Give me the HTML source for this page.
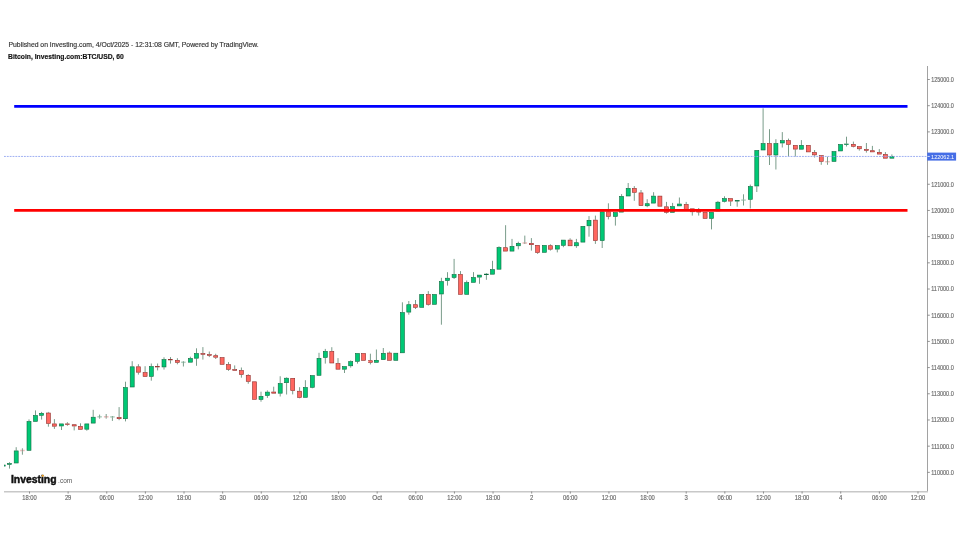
<!DOCTYPE html>
<html><head><meta charset="utf-8"><style>
html,body{margin:0;padding:0;background:#fff;width:960px;height:540px;overflow:hidden}
body>svg{position:absolute;left:0;top:0;will-change:transform}
text{font-family:"Liberation Sans",sans-serif}
.ax{font-size:6.6px;fill:#686868;stroke:#686868;stroke-width:0.15px}
</style></head><body>
<svg width="960" height="540" viewBox="0 0 960 540">
<text x="8.5" y="47" font-size="6.5" fill="#333" stroke="#333" stroke-width="0.15" textLength="250.2" lengthAdjust="spacingAndGlyphs">Published on Investing.com, 4/Oct/2025 - 12:31:08 GMT, Powered by TradingView.</text>
<text x="8" y="58.8" font-size="6.5" font-weight="bold" fill="#111" stroke="#111" stroke-width="0.15" textLength="115.9" lengthAdjust="spacingAndGlyphs">Bitcoin, Investing.com:BTC/USD, 60</text>
<svg x="4" y="60" width="923" height="431" viewBox="4 60 923 431" overflow="hidden">
<rect x="1.20" y="465.00" width="4.00" height="1.10" fill="#00c875" stroke="#0b6a3e" stroke-width="0.6"/>
<line x1="9.50" y1="462.20" x2="9.50" y2="463.20" stroke="#7a9c8a" stroke-width="1"/>
<line x1="9.50" y1="464.70" x2="9.50" y2="468.60" stroke="#7a9c8a" stroke-width="1"/>
<rect x="7.50" y="463.50" width="4.00" height="0.90" fill="#00c875" stroke="#0b6a3e" stroke-width="0.6"/>
<line x1="16.20" y1="447.20" x2="16.20" y2="450.60" stroke="#7a9c8a" stroke-width="1"/>
<rect x="14.20" y="450.90" width="4.00" height="12.10" fill="#00c875" stroke="#0b6a3e" stroke-width="0.6"/>
<line x1="22.40" y1="448.30" x2="22.40" y2="450.20" stroke="#7a9c8a" stroke-width="1"/>
<line x1="22.40" y1="450.80" x2="22.40" y2="454.70" stroke="#7a9c8a" stroke-width="1"/>
<rect x="20.10" y="449.75" width="4.60" height="1.5" fill="#eebcbc"/>
<line x1="22.40" y1="449.75" x2="22.40" y2="451.25" stroke="#7a9c8a" stroke-width="1"/>
<line x1="29.00" y1="419.40" x2="29.00" y2="421.20" stroke="#7a9c8a" stroke-width="1"/>
<rect x="27.00" y="421.50" width="4.00" height="28.80" fill="#00c875" stroke="#0b6a3e" stroke-width="0.6"/>
<line x1="35.50" y1="410.40" x2="35.50" y2="415.20" stroke="#7a9c8a" stroke-width="1"/>
<rect x="33.50" y="415.50" width="4.00" height="5.90" fill="#00c875" stroke="#0b6a3e" stroke-width="0.6"/>
<line x1="41.60" y1="411.90" x2="41.60" y2="413.00" stroke="#7a9c8a" stroke-width="1"/>
<line x1="41.60" y1="415.60" x2="41.60" y2="419.60" stroke="#7a9c8a" stroke-width="1"/>
<rect x="39.60" y="413.30" width="4.00" height="2.00" fill="#00c875" stroke="#0b6a3e" stroke-width="0.6"/>
<line x1="48.40" y1="411.90" x2="48.40" y2="412.70" stroke="#7a9c8a" stroke-width="1"/>
<line x1="48.40" y1="423.70" x2="48.40" y2="426.70" stroke="#7a9c8a" stroke-width="1"/>
<rect x="46.40" y="413.00" width="4.00" height="10.40" fill="#ff6760" stroke="#8f2f2c" stroke-width="0.6"/>
<line x1="54.40" y1="419.10" x2="54.40" y2="423.60" stroke="#7a9c8a" stroke-width="1"/>
<line x1="54.40" y1="426.50" x2="54.40" y2="428.90" stroke="#7a9c8a" stroke-width="1"/>
<rect x="52.40" y="423.90" width="4.00" height="2.30" fill="#ff6760" stroke="#8f2f2c" stroke-width="0.6"/>
<line x1="61.50" y1="426.30" x2="61.50" y2="430.00" stroke="#7a9c8a" stroke-width="1"/>
<rect x="59.50" y="423.90" width="4.00" height="2.10" fill="#00c875" stroke="#0b6a3e" stroke-width="0.6"/>
<line x1="67.40" y1="422.20" x2="67.40" y2="423.60" stroke="#7a9c8a" stroke-width="1"/>
<line x1="67.40" y1="424.80" x2="67.40" y2="425.80" stroke="#7a9c8a" stroke-width="1"/>
<rect x="65.40" y="423.90" width="4.00" height="0.60" fill="#ff6760" stroke="#8f2f2c" stroke-width="0.6"/>
<line x1="74.20" y1="426.30" x2="74.20" y2="430.40" stroke="#7a9c8a" stroke-width="1"/>
<rect x="72.20" y="424.70" width="4.00" height="1.30" fill="#ff6760" stroke="#8f2f2c" stroke-width="0.6"/>
<line x1="80.50" y1="423.30" x2="80.50" y2="426.10" stroke="#7a9c8a" stroke-width="1"/>
<rect x="78.50" y="426.40" width="4.00" height="2.90" fill="#ff6760" stroke="#8f2f2c" stroke-width="0.6"/>
<line x1="86.80" y1="429.50" x2="86.80" y2="430.70" stroke="#7a9c8a" stroke-width="1"/>
<rect x="84.80" y="423.90" width="4.00" height="5.30" fill="#00c875" stroke="#0b6a3e" stroke-width="0.6"/>
<line x1="93.20" y1="409.80" x2="93.20" y2="416.90" stroke="#7a9c8a" stroke-width="1"/>
<rect x="91.20" y="417.20" width="4.00" height="5.90" fill="#00c875" stroke="#0b6a3e" stroke-width="0.6"/>
<line x1="99.60" y1="414.60" x2="99.60" y2="416.50" stroke="#7a9c8a" stroke-width="1"/>
<line x1="99.60" y1="417.10" x2="99.60" y2="418.70" stroke="#7a9c8a" stroke-width="1"/>
<rect x="97.30" y="416.05" width="4.60" height="1.5" fill="#b4d2c2"/>
<line x1="99.60" y1="416.05" x2="99.60" y2="417.55" stroke="#7a9c8a" stroke-width="1"/>
<line x1="106.20" y1="414.00" x2="106.20" y2="416.50" stroke="#7a9c8a" stroke-width="1"/>
<line x1="106.20" y1="417.10" x2="106.20" y2="418.70" stroke="#7a9c8a" stroke-width="1"/>
<rect x="103.90" y="416.05" width="4.60" height="1.5" fill="#eebcbc"/>
<line x1="106.20" y1="416.05" x2="106.20" y2="417.55" stroke="#7a9c8a" stroke-width="1"/>
<line x1="112.40" y1="417.20" x2="112.40" y2="420.90" stroke="#7a9c8a" stroke-width="1"/>
<rect x="110.10" y="416.15" width="4.60" height="1.5" fill="#b4d2c2"/>
<line x1="112.40" y1="416.15" x2="112.40" y2="417.65" stroke="#7a9c8a" stroke-width="1"/>
<line x1="119.10" y1="407.10" x2="119.10" y2="417.20" stroke="#7a9c8a" stroke-width="1"/>
<line x1="119.10" y1="419.00" x2="119.10" y2="420.20" stroke="#7a9c8a" stroke-width="1"/>
<rect x="117.10" y="417.50" width="4.00" height="1.20" fill="#ff6760" stroke="#8f2f2c" stroke-width="0.6"/>
<line x1="125.50" y1="381.70" x2="125.50" y2="387.30" stroke="#7a9c8a" stroke-width="1"/>
<line x1="125.50" y1="419.00" x2="125.50" y2="421.40" stroke="#7a9c8a" stroke-width="1"/>
<rect x="123.50" y="387.60" width="4.00" height="31.10" fill="#00c875" stroke="#0b6a3e" stroke-width="0.6"/>
<line x1="132.20" y1="361.20" x2="132.20" y2="366.50" stroke="#7a9c8a" stroke-width="1"/>
<rect x="130.20" y="366.80" width="4.00" height="20.20" fill="#00c875" stroke="#0b6a3e" stroke-width="0.6"/>
<line x1="138.40" y1="364.20" x2="138.40" y2="366.50" stroke="#7a9c8a" stroke-width="1"/>
<line x1="138.40" y1="372.50" x2="138.40" y2="374.60" stroke="#7a9c8a" stroke-width="1"/>
<rect x="136.40" y="366.80" width="4.00" height="5.40" fill="#ff6760" stroke="#8f2f2c" stroke-width="0.6"/>
<line x1="145.10" y1="366.20" x2="145.10" y2="372.30" stroke="#7a9c8a" stroke-width="1"/>
<rect x="143.10" y="372.60" width="4.00" height="3.90" fill="#ff6760" stroke="#8f2f2c" stroke-width="0.6"/>
<line x1="151.30" y1="363.50" x2="151.30" y2="366.25" stroke="#7a9c8a" stroke-width="1"/>
<line x1="151.30" y1="376.70" x2="151.30" y2="380.70" stroke="#7a9c8a" stroke-width="1"/>
<rect x="149.30" y="366.55" width="4.00" height="9.85" fill="#00c875" stroke="#0b6a3e" stroke-width="0.6"/>
<line x1="157.60" y1="363.50" x2="157.60" y2="366.20" stroke="#7a9c8a" stroke-width="1"/>
<line x1="157.60" y1="367.30" x2="157.60" y2="370.40" stroke="#7a9c8a" stroke-width="1"/>
<rect x="155.60" y="366.50" width="4.00" height="0.50" fill="#ff6760" stroke="#8f2f2c" stroke-width="0.6"/>
<line x1="164.00" y1="357.30" x2="164.00" y2="359.30" stroke="#7a9c8a" stroke-width="1"/>
<line x1="164.00" y1="367.25" x2="164.00" y2="369.60" stroke="#7a9c8a" stroke-width="1"/>
<rect x="162.00" y="359.60" width="4.00" height="7.35" fill="#00c875" stroke="#0b6a3e" stroke-width="0.6"/>
<line x1="170.50" y1="357.10" x2="170.50" y2="359.20" stroke="#7a9c8a" stroke-width="1"/>
<line x1="170.50" y1="360.25" x2="170.50" y2="363.60" stroke="#7a9c8a" stroke-width="1"/>
<rect x="168.50" y="359.50" width="4.00" height="0.45" fill="#ff6760" stroke="#8f2f2c" stroke-width="0.6"/>
<line x1="177.40" y1="358.20" x2="177.40" y2="360.00" stroke="#7a9c8a" stroke-width="1"/>
<line x1="177.40" y1="362.70" x2="177.40" y2="364.30" stroke="#7a9c8a" stroke-width="1"/>
<rect x="175.40" y="360.30" width="4.00" height="2.10" fill="#ff6760" stroke="#8f2f2c" stroke-width="0.6"/>
<line x1="183.40" y1="361.25" x2="183.40" y2="362.00" stroke="#7a9c8a" stroke-width="1"/>
<line x1="183.40" y1="362.60" x2="183.40" y2="366.50" stroke="#7a9c8a" stroke-width="1"/>
<rect x="181.10" y="361.55" width="4.60" height="1.5" fill="#b4d2c2"/>
<line x1="183.40" y1="361.55" x2="183.40" y2="363.05" stroke="#7a9c8a" stroke-width="1"/>
<line x1="190.40" y1="356.70" x2="190.40" y2="358.20" stroke="#7a9c8a" stroke-width="1"/>
<rect x="188.40" y="358.50" width="4.00" height="3.70" fill="#00c875" stroke="#0b6a3e" stroke-width="0.6"/>
<line x1="196.50" y1="348.30" x2="196.50" y2="353.20" stroke="#7a9c8a" stroke-width="1"/>
<line x1="196.50" y1="358.50" x2="196.50" y2="365.80" stroke="#7a9c8a" stroke-width="1"/>
<rect x="194.50" y="353.50" width="4.00" height="4.70" fill="#00c875" stroke="#0b6a3e" stroke-width="0.6"/>
<line x1="202.90" y1="347.10" x2="202.90" y2="353.20" stroke="#7a9c8a" stroke-width="1"/>
<line x1="202.90" y1="354.60" x2="202.90" y2="359.60" stroke="#7a9c8a" stroke-width="1"/>
<rect x="200.90" y="353.50" width="4.00" height="0.80" fill="#ff6760" stroke="#8f2f2c" stroke-width="0.6"/>
<line x1="209.30" y1="351.50" x2="209.30" y2="354.30" stroke="#7a9c8a" stroke-width="1"/>
<line x1="209.30" y1="355.70" x2="209.30" y2="357.10" stroke="#7a9c8a" stroke-width="1"/>
<rect x="207.30" y="354.60" width="4.00" height="0.80" fill="#ff6760" stroke="#8f2f2c" stroke-width="0.6"/>
<line x1="215.70" y1="353.75" x2="215.70" y2="355.40" stroke="#7a9c8a" stroke-width="1"/>
<line x1="215.70" y1="357.50" x2="215.70" y2="359.00" stroke="#7a9c8a" stroke-width="1"/>
<rect x="213.70" y="355.70" width="4.00" height="1.50" fill="#ff6760" stroke="#8f2f2c" stroke-width="0.6"/>
<rect x="220.10" y="357.60" width="4.00" height="6.70" fill="#ff6760" stroke="#8f2f2c" stroke-width="0.6"/>
<line x1="228.50" y1="362.10" x2="228.50" y2="364.30" stroke="#7a9c8a" stroke-width="1"/>
<line x1="228.50" y1="369.60" x2="228.50" y2="370.80" stroke="#7a9c8a" stroke-width="1"/>
<rect x="226.50" y="364.60" width="4.00" height="4.70" fill="#ff6760" stroke="#8f2f2c" stroke-width="0.6"/>
<line x1="234.70" y1="365.40" x2="234.70" y2="369.30" stroke="#7a9c8a" stroke-width="1"/>
<rect x="232.70" y="369.60" width="4.00" height="0.80" fill="#ff6760" stroke="#8f2f2c" stroke-width="0.6"/>
<line x1="241.40" y1="367.50" x2="241.40" y2="370.20" stroke="#7a9c8a" stroke-width="1"/>
<line x1="241.40" y1="374.80" x2="241.40" y2="377.70" stroke="#7a9c8a" stroke-width="1"/>
<rect x="239.40" y="370.50" width="4.00" height="4.00" fill="#ff6760" stroke="#8f2f2c" stroke-width="0.6"/>
<line x1="248.25" y1="374.20" x2="248.25" y2="375.00" stroke="#7a9c8a" stroke-width="1"/>
<line x1="248.25" y1="381.70" x2="248.25" y2="383.75" stroke="#7a9c8a" stroke-width="1"/>
<rect x="246.25" y="375.30" width="4.00" height="6.10" fill="#ff6760" stroke="#8f2f2c" stroke-width="0.6"/>
<rect x="252.50" y="381.80" width="4.00" height="17.50" fill="#ff6760" stroke="#8f2f2c" stroke-width="0.6"/>
<line x1="261.00" y1="391.70" x2="261.00" y2="396.00" stroke="#7a9c8a" stroke-width="1"/>
<line x1="261.00" y1="399.80" x2="261.00" y2="401.70" stroke="#7a9c8a" stroke-width="1"/>
<rect x="259.00" y="396.30" width="4.00" height="3.20" fill="#00c875" stroke="#0b6a3e" stroke-width="0.6"/>
<line x1="267.40" y1="390.40" x2="267.40" y2="391.80" stroke="#7a9c8a" stroke-width="1"/>
<line x1="267.40" y1="395.80" x2="267.40" y2="397.90" stroke="#7a9c8a" stroke-width="1"/>
<rect x="265.40" y="392.10" width="4.00" height="3.40" fill="#00c875" stroke="#0b6a3e" stroke-width="0.6"/>
<line x1="273.70" y1="386.70" x2="273.70" y2="391.70" stroke="#7a9c8a" stroke-width="1"/>
<rect x="271.70" y="392.00" width="4.00" height="1.20" fill="#ff6760" stroke="#8f2f2c" stroke-width="0.6"/>
<line x1="280.20" y1="376.25" x2="280.20" y2="383.20" stroke="#7a9c8a" stroke-width="1"/>
<line x1="280.20" y1="393.50" x2="280.20" y2="396.50" stroke="#7a9c8a" stroke-width="1"/>
<rect x="278.20" y="383.50" width="4.00" height="9.70" fill="#00c875" stroke="#0b6a3e" stroke-width="0.6"/>
<line x1="286.60" y1="377.30" x2="286.60" y2="377.90" stroke="#7a9c8a" stroke-width="1"/>
<line x1="286.60" y1="383.00" x2="286.60" y2="394.50" stroke="#7a9c8a" stroke-width="1"/>
<rect x="284.60" y="378.20" width="4.00" height="4.50" fill="#00c875" stroke="#0b6a3e" stroke-width="0.6"/>
<line x1="292.70" y1="390.90" x2="292.70" y2="394.40" stroke="#7a9c8a" stroke-width="1"/>
<rect x="290.70" y="378.30" width="4.00" height="12.30" fill="#ff6760" stroke="#8f2f2c" stroke-width="0.6"/>
<line x1="299.60" y1="387.20" x2="299.60" y2="390.90" stroke="#7a9c8a" stroke-width="1"/>
<line x1="299.60" y1="397.80" x2="299.60" y2="398.30" stroke="#7a9c8a" stroke-width="1"/>
<rect x="297.60" y="391.20" width="4.00" height="6.30" fill="#ff6760" stroke="#8f2f2c" stroke-width="0.6"/>
<line x1="305.40" y1="380.20" x2="305.40" y2="387.20" stroke="#7a9c8a" stroke-width="1"/>
<rect x="303.40" y="387.50" width="4.00" height="9.80" fill="#00c875" stroke="#0b6a3e" stroke-width="0.6"/>
<line x1="312.30" y1="387.60" x2="312.30" y2="388.30" stroke="#7a9c8a" stroke-width="1"/>
<rect x="310.30" y="375.60" width="4.00" height="11.70" fill="#00c875" stroke="#0b6a3e" stroke-width="0.6"/>
<line x1="319.00" y1="352.80" x2="319.00" y2="358.00" stroke="#7a9c8a" stroke-width="1"/>
<rect x="317.00" y="358.30" width="4.00" height="17.00" fill="#00c875" stroke="#0b6a3e" stroke-width="0.6"/>
<line x1="325.30" y1="348.90" x2="325.30" y2="351.10" stroke="#7a9c8a" stroke-width="1"/>
<line x1="325.30" y1="357.80" x2="325.30" y2="363.60" stroke="#7a9c8a" stroke-width="1"/>
<rect x="323.30" y="351.40" width="4.00" height="6.10" fill="#00c875" stroke="#0b6a3e" stroke-width="0.6"/>
<line x1="331.80" y1="347.20" x2="331.80" y2="351.10" stroke="#7a9c8a" stroke-width="1"/>
<rect x="329.80" y="351.40" width="4.00" height="11.60" fill="#ff6760" stroke="#8f2f2c" stroke-width="0.6"/>
<line x1="338.00" y1="358.10" x2="338.00" y2="363.20" stroke="#7a9c8a" stroke-width="1"/>
<rect x="336.00" y="363.50" width="4.00" height="5.70" fill="#ff6760" stroke="#8f2f2c" stroke-width="0.6"/>
<line x1="344.50" y1="369.50" x2="344.50" y2="373.00" stroke="#7a9c8a" stroke-width="1"/>
<rect x="342.50" y="366.60" width="4.00" height="2.60" fill="#00c875" stroke="#0b6a3e" stroke-width="0.6"/>
<line x1="350.70" y1="360.40" x2="350.70" y2="361.30" stroke="#7a9c8a" stroke-width="1"/>
<line x1="350.70" y1="366.10" x2="350.70" y2="367.60" stroke="#7a9c8a" stroke-width="1"/>
<rect x="348.70" y="361.60" width="4.00" height="4.20" fill="#00c875" stroke="#0b6a3e" stroke-width="0.6"/>
<line x1="357.50" y1="361.60" x2="357.50" y2="363.60" stroke="#7a9c8a" stroke-width="1"/>
<rect x="355.50" y="353.50" width="4.00" height="7.80" fill="#00c875" stroke="#0b6a3e" stroke-width="0.6"/>
<rect x="361.60" y="353.50" width="4.00" height="6.80" fill="#ff6760" stroke="#8f2f2c" stroke-width="0.6"/>
<line x1="370.40" y1="353.70" x2="370.40" y2="360.40" stroke="#7a9c8a" stroke-width="1"/>
<line x1="370.40" y1="362.60" x2="370.40" y2="364.40" stroke="#7a9c8a" stroke-width="1"/>
<rect x="368.40" y="360.70" width="4.00" height="1.60" fill="#ff6760" stroke="#8f2f2c" stroke-width="0.6"/>
<line x1="376.40" y1="349.50" x2="376.40" y2="360.00" stroke="#7a9c8a" stroke-width="1"/>
<rect x="374.40" y="360.30" width="4.00" height="2.00" fill="#00c875" stroke="#0b6a3e" stroke-width="0.6"/>
<line x1="383.30" y1="348.00" x2="383.30" y2="353.00" stroke="#7a9c8a" stroke-width="1"/>
<rect x="381.30" y="353.30" width="4.00" height="6.30" fill="#00c875" stroke="#0b6a3e" stroke-width="0.6"/>
<line x1="389.50" y1="351.50" x2="389.50" y2="352.70" stroke="#7a9c8a" stroke-width="1"/>
<rect x="387.50" y="353.00" width="4.00" height="7.30" fill="#ff6760" stroke="#8f2f2c" stroke-width="0.6"/>
<rect x="393.80" y="353.20" width="4.00" height="7.10" fill="#00c875" stroke="#0b6a3e" stroke-width="0.6"/>
<line x1="402.40" y1="302.30" x2="402.40" y2="312.30" stroke="#7a9c8a" stroke-width="1"/>
<rect x="400.40" y="312.60" width="4.00" height="40.20" fill="#00c875" stroke="#0b6a3e" stroke-width="0.6"/>
<line x1="408.80" y1="301.00" x2="408.80" y2="304.40" stroke="#7a9c8a" stroke-width="1"/>
<line x1="408.80" y1="312.40" x2="408.80" y2="314.70" stroke="#7a9c8a" stroke-width="1"/>
<rect x="406.80" y="304.70" width="4.00" height="7.40" fill="#00c875" stroke="#0b6a3e" stroke-width="0.6"/>
<line x1="415.50" y1="300.00" x2="415.50" y2="304.40" stroke="#7a9c8a" stroke-width="1"/>
<line x1="415.50" y1="307.60" x2="415.50" y2="309.00" stroke="#7a9c8a" stroke-width="1"/>
<rect x="413.50" y="304.70" width="4.00" height="2.60" fill="#ff6760" stroke="#8f2f2c" stroke-width="0.6"/>
<rect x="419.70" y="294.50" width="4.00" height="12.80" fill="#00c875" stroke="#0b6a3e" stroke-width="0.6"/>
<line x1="428.30" y1="291.10" x2="428.30" y2="294.20" stroke="#7a9c8a" stroke-width="1"/>
<line x1="428.30" y1="304.60" x2="428.30" y2="305.60" stroke="#7a9c8a" stroke-width="1"/>
<rect x="426.30" y="294.50" width="4.00" height="9.80" fill="#ff6760" stroke="#8f2f2c" stroke-width="0.6"/>
<rect x="432.50" y="294.50" width="4.00" height="9.80" fill="#00c875" stroke="#0b6a3e" stroke-width="0.6"/>
<line x1="441.40" y1="277.80" x2="441.40" y2="281.30" stroke="#7a9c8a" stroke-width="1"/>
<line x1="441.40" y1="294.30" x2="441.40" y2="324.70" stroke="#7a9c8a" stroke-width="1"/>
<rect x="439.40" y="281.60" width="4.00" height="12.40" fill="#00c875" stroke="#0b6a3e" stroke-width="0.6"/>
<line x1="447.50" y1="272.20" x2="447.50" y2="277.90" stroke="#7a9c8a" stroke-width="1"/>
<line x1="447.50" y1="280.90" x2="447.50" y2="285.60" stroke="#7a9c8a" stroke-width="1"/>
<rect x="445.50" y="278.20" width="4.00" height="2.40" fill="#00c875" stroke="#0b6a3e" stroke-width="0.6"/>
<line x1="454.10" y1="258.90" x2="454.10" y2="274.20" stroke="#7a9c8a" stroke-width="1"/>
<line x1="454.10" y1="277.80" x2="454.10" y2="279.00" stroke="#7a9c8a" stroke-width="1"/>
<rect x="452.10" y="274.50" width="4.00" height="3.00" fill="#00c875" stroke="#0b6a3e" stroke-width="0.6"/>
<line x1="460.50" y1="271.10" x2="460.50" y2="274.20" stroke="#7a9c8a" stroke-width="1"/>
<rect x="458.50" y="274.50" width="4.00" height="19.80" fill="#ff6760" stroke="#8f2f2c" stroke-width="0.6"/>
<line x1="466.70" y1="280.50" x2="466.70" y2="282.30" stroke="#7a9c8a" stroke-width="1"/>
<rect x="464.70" y="282.60" width="4.00" height="11.70" fill="#00c875" stroke="#0b6a3e" stroke-width="0.6"/>
<line x1="473.50" y1="272.10" x2="473.50" y2="277.20" stroke="#7a9c8a" stroke-width="1"/>
<rect x="471.50" y="277.50" width="4.00" height="4.80" fill="#00c875" stroke="#0b6a3e" stroke-width="0.6"/>
<line x1="479.50" y1="277.40" x2="479.50" y2="283.80" stroke="#7a9c8a" stroke-width="1"/>
<rect x="477.50" y="275.10" width="4.00" height="2.00" fill="#00c875" stroke="#0b6a3e" stroke-width="0.6"/>
<line x1="486.40" y1="273.00" x2="486.40" y2="273.80" stroke="#7a9c8a" stroke-width="1"/>
<line x1="486.40" y1="275.00" x2="486.40" y2="279.80" stroke="#7a9c8a" stroke-width="1"/>
<rect x="484.40" y="274.10" width="4.00" height="0.60" fill="#00c875" stroke="#0b6a3e" stroke-width="0.6"/>
<line x1="492.50" y1="260.80" x2="492.50" y2="269.30" stroke="#7a9c8a" stroke-width="1"/>
<rect x="490.50" y="269.60" width="4.00" height="4.60" fill="#00c875" stroke="#0b6a3e" stroke-width="0.6"/>
<line x1="499.00" y1="246.30" x2="499.00" y2="247.20" stroke="#7a9c8a" stroke-width="1"/>
<rect x="497.00" y="247.50" width="4.00" height="21.70" fill="#00c875" stroke="#0b6a3e" stroke-width="0.6"/>
<line x1="505.60" y1="225.20" x2="505.60" y2="247.40" stroke="#7a9c8a" stroke-width="1"/>
<rect x="503.60" y="247.70" width="4.00" height="3.40" fill="#ff6760" stroke="#8f2f2c" stroke-width="0.6"/>
<line x1="512.00" y1="238.90" x2="512.00" y2="246.10" stroke="#7a9c8a" stroke-width="1"/>
<rect x="510.00" y="246.40" width="4.00" height="4.70" fill="#00c875" stroke="#0b6a3e" stroke-width="0.6"/>
<line x1="518.30" y1="241.70" x2="518.30" y2="243.00" stroke="#7a9c8a" stroke-width="1"/>
<line x1="518.30" y1="246.10" x2="518.30" y2="249.40" stroke="#7a9c8a" stroke-width="1"/>
<rect x="516.30" y="243.30" width="4.00" height="2.50" fill="#00c875" stroke="#0b6a3e" stroke-width="0.6"/>
<line x1="524.80" y1="235.60" x2="524.80" y2="242.70" stroke="#7a9c8a" stroke-width="1"/>
<line x1="524.80" y1="243.30" x2="524.80" y2="243.70" stroke="#7a9c8a" stroke-width="1"/>
<rect x="522.50" y="242.25" width="4.60" height="1.5" fill="#eebcbc"/>
<line x1="524.80" y1="242.25" x2="524.80" y2="243.75" stroke="#7a9c8a" stroke-width="1"/>
<line x1="531.40" y1="238.10" x2="531.40" y2="243.00" stroke="#7a9c8a" stroke-width="1"/>
<line x1="531.40" y1="245.00" x2="531.40" y2="250.60" stroke="#7a9c8a" stroke-width="1"/>
<rect x="529.40" y="243.30" width="4.00" height="1.40" fill="#ff6760" stroke="#8f2f2c" stroke-width="0.6"/>
<line x1="537.60" y1="252.80" x2="537.60" y2="253.90" stroke="#7a9c8a" stroke-width="1"/>
<rect x="535.60" y="245.30" width="4.00" height="7.20" fill="#ff6760" stroke="#8f2f2c" stroke-width="0.6"/>
<rect x="542.40" y="245.40" width="4.00" height="6.90" fill="#00c875" stroke="#0b6a3e" stroke-width="0.6"/>
<line x1="550.40" y1="244.30" x2="550.40" y2="245.40" stroke="#7a9c8a" stroke-width="1"/>
<line x1="550.40" y1="249.50" x2="550.40" y2="250.60" stroke="#7a9c8a" stroke-width="1"/>
<rect x="548.40" y="245.70" width="4.00" height="3.50" fill="#ff6760" stroke="#8f2f2c" stroke-width="0.6"/>
<line x1="557.30" y1="249.40" x2="557.30" y2="252.40" stroke="#7a9c8a" stroke-width="1"/>
<rect x="555.30" y="245.60" width="4.00" height="3.50" fill="#00c875" stroke="#0b6a3e" stroke-width="0.6"/>
<line x1="563.40" y1="245.60" x2="563.40" y2="247.20" stroke="#7a9c8a" stroke-width="1"/>
<rect x="561.40" y="240.10" width="4.00" height="5.20" fill="#00c875" stroke="#0b6a3e" stroke-width="0.6"/>
<line x1="570.10" y1="238.30" x2="570.10" y2="239.80" stroke="#7a9c8a" stroke-width="1"/>
<rect x="568.10" y="240.10" width="4.00" height="5.70" fill="#ff6760" stroke="#8f2f2c" stroke-width="0.6"/>
<line x1="576.40" y1="238.90" x2="576.40" y2="242.40" stroke="#7a9c8a" stroke-width="1"/>
<line x1="576.40" y1="246.10" x2="576.40" y2="247.80" stroke="#7a9c8a" stroke-width="1"/>
<rect x="574.40" y="242.70" width="4.00" height="3.10" fill="#00c875" stroke="#0b6a3e" stroke-width="0.6"/>
<rect x="580.90" y="226.40" width="4.00" height="15.70" fill="#00c875" stroke="#0b6a3e" stroke-width="0.6"/>
<line x1="589.00" y1="216.10" x2="589.00" y2="220.00" stroke="#7a9c8a" stroke-width="1"/>
<line x1="589.00" y1="226.10" x2="589.00" y2="236.70" stroke="#7a9c8a" stroke-width="1"/>
<rect x="587.00" y="220.30" width="4.00" height="5.50" fill="#00c875" stroke="#0b6a3e" stroke-width="0.6"/>
<line x1="595.40" y1="215.60" x2="595.40" y2="219.80" stroke="#7a9c8a" stroke-width="1"/>
<line x1="595.40" y1="240.90" x2="595.40" y2="243.90" stroke="#7a9c8a" stroke-width="1"/>
<rect x="593.40" y="220.10" width="4.00" height="20.50" fill="#ff6760" stroke="#8f2f2c" stroke-width="0.6"/>
<line x1="602.20" y1="240.90" x2="602.20" y2="248.00" stroke="#7a9c8a" stroke-width="1"/>
<rect x="600.20" y="211.80" width="4.00" height="28.80" fill="#00c875" stroke="#0b6a3e" stroke-width="0.6"/>
<line x1="608.40" y1="203.30" x2="608.40" y2="211.50" stroke="#7a9c8a" stroke-width="1"/>
<line x1="608.40" y1="216.70" x2="608.40" y2="219.40" stroke="#7a9c8a" stroke-width="1"/>
<rect x="606.40" y="211.80" width="4.00" height="4.60" fill="#ff6760" stroke="#8f2f2c" stroke-width="0.6"/>
<line x1="615.40" y1="216.70" x2="615.40" y2="225.60" stroke="#7a9c8a" stroke-width="1"/>
<rect x="613.40" y="212.60" width="4.00" height="3.80" fill="#00c875" stroke="#0b6a3e" stroke-width="0.6"/>
<line x1="621.60" y1="194.10" x2="621.60" y2="196.10" stroke="#7a9c8a" stroke-width="1"/>
<rect x="619.60" y="196.40" width="4.00" height="15.70" fill="#00c875" stroke="#0b6a3e" stroke-width="0.6"/>
<line x1="628.20" y1="183.00" x2="628.20" y2="188.10" stroke="#7a9c8a" stroke-width="1"/>
<rect x="626.20" y="188.40" width="4.00" height="7.60" fill="#00c875" stroke="#0b6a3e" stroke-width="0.6"/>
<line x1="634.30" y1="186.10" x2="634.30" y2="188.10" stroke="#7a9c8a" stroke-width="1"/>
<line x1="634.30" y1="192.60" x2="634.30" y2="200.80" stroke="#7a9c8a" stroke-width="1"/>
<rect x="632.30" y="188.40" width="4.00" height="3.90" fill="#ff6760" stroke="#8f2f2c" stroke-width="0.6"/>
<line x1="641.00" y1="190.00" x2="641.00" y2="192.60" stroke="#7a9c8a" stroke-width="1"/>
<rect x="639.00" y="192.90" width="4.00" height="12.70" fill="#ff6760" stroke="#8f2f2c" stroke-width="0.6"/>
<line x1="647.20" y1="199.20" x2="647.20" y2="203.40" stroke="#7a9c8a" stroke-width="1"/>
<line x1="647.20" y1="206.10" x2="647.20" y2="207.20" stroke="#7a9c8a" stroke-width="1"/>
<rect x="645.20" y="203.70" width="4.00" height="2.10" fill="#00c875" stroke="#0b6a3e" stroke-width="0.6"/>
<line x1="653.60" y1="192.20" x2="653.60" y2="195.80" stroke="#7a9c8a" stroke-width="1"/>
<rect x="651.60" y="196.10" width="4.00" height="7.00" fill="#00c875" stroke="#0b6a3e" stroke-width="0.6"/>
<rect x="657.90" y="196.10" width="4.00" height="10.10" fill="#ff6760" stroke="#8f2f2c" stroke-width="0.6"/>
<line x1="666.50" y1="201.90" x2="666.50" y2="206.50" stroke="#7a9c8a" stroke-width="1"/>
<line x1="666.50" y1="212.60" x2="666.50" y2="213.60" stroke="#7a9c8a" stroke-width="1"/>
<rect x="664.50" y="206.80" width="4.00" height="5.50" fill="#ff6760" stroke="#8f2f2c" stroke-width="0.6"/>
<line x1="672.60" y1="202.90" x2="672.60" y2="206.30" stroke="#7a9c8a" stroke-width="1"/>
<rect x="670.60" y="206.60" width="4.00" height="5.70" fill="#00c875" stroke="#0b6a3e" stroke-width="0.6"/>
<line x1="679.40" y1="197.50" x2="679.40" y2="203.70" stroke="#7a9c8a" stroke-width="1"/>
<rect x="677.40" y="204.00" width="4.00" height="1.90" fill="#00c875" stroke="#0b6a3e" stroke-width="0.6"/>
<line x1="686.20" y1="201.90" x2="686.20" y2="204.10" stroke="#7a9c8a" stroke-width="1"/>
<rect x="684.20" y="204.40" width="4.00" height="5.80" fill="#ff6760" stroke="#8f2f2c" stroke-width="0.6"/>
<line x1="692.30" y1="212.10" x2="692.30" y2="215.60" stroke="#7a9c8a" stroke-width="1"/>
<rect x="690.30" y="208.80" width="4.00" height="3.00" fill="#ff6760" stroke="#8f2f2c" stroke-width="0.6"/>
<line x1="698.70" y1="208.00" x2="698.70" y2="210.50" stroke="#7a9c8a" stroke-width="1"/>
<line x1="698.70" y1="212.40" x2="698.70" y2="215.60" stroke="#7a9c8a" stroke-width="1"/>
<rect x="696.70" y="210.80" width="4.00" height="1.30" fill="#ff6760" stroke="#8f2f2c" stroke-width="0.6"/>
<rect x="703.10" y="212.50" width="4.00" height="5.90" fill="#ff6760" stroke="#8f2f2c" stroke-width="0.6"/>
<line x1="711.50" y1="218.70" x2="711.50" y2="229.40" stroke="#7a9c8a" stroke-width="1"/>
<rect x="709.50" y="212.40" width="4.00" height="6.00" fill="#00c875" stroke="#0b6a3e" stroke-width="0.6"/>
<line x1="717.90" y1="200.90" x2="717.90" y2="201.90" stroke="#7a9c8a" stroke-width="1"/>
<rect x="715.90" y="202.20" width="4.00" height="8.80" fill="#00c875" stroke="#0b6a3e" stroke-width="0.6"/>
<line x1="724.50" y1="196.30" x2="724.50" y2="198.30" stroke="#7a9c8a" stroke-width="1"/>
<line x1="724.50" y1="201.60" x2="724.50" y2="202.40" stroke="#7a9c8a" stroke-width="1"/>
<rect x="722.50" y="198.60" width="4.00" height="2.70" fill="#00c875" stroke="#0b6a3e" stroke-width="0.6"/>
<line x1="730.60" y1="201.40" x2="730.60" y2="206.00" stroke="#7a9c8a" stroke-width="1"/>
<rect x="728.60" y="198.60" width="4.00" height="2.50" fill="#ff6760" stroke="#8f2f2c" stroke-width="0.6"/>
<line x1="737.20" y1="201.40" x2="737.20" y2="206.70" stroke="#7a9c8a" stroke-width="1"/>
<rect x="735.20" y="200.50" width="4.00" height="0.60" fill="#00c875" stroke="#0b6a3e" stroke-width="0.6"/>
<line x1="743.50" y1="194.30" x2="743.50" y2="199.80" stroke="#7a9c8a" stroke-width="1"/>
<line x1="743.50" y1="200.40" x2="743.50" y2="205.50" stroke="#7a9c8a" stroke-width="1"/>
<rect x="741.20" y="199.35" width="4.60" height="1.5" fill="#b4d2c2"/>
<line x1="743.50" y1="199.35" x2="743.50" y2="200.85" stroke="#7a9c8a" stroke-width="1"/>
<line x1="750.30" y1="184.60" x2="750.30" y2="186.30" stroke="#7a9c8a" stroke-width="1"/>
<line x1="750.30" y1="199.60" x2="750.30" y2="208.50" stroke="#7a9c8a" stroke-width="1"/>
<rect x="748.30" y="186.60" width="4.00" height="12.70" fill="#00c875" stroke="#0b6a3e" stroke-width="0.6"/>
<line x1="756.80" y1="186.30" x2="756.80" y2="192.00" stroke="#7a9c8a" stroke-width="1"/>
<rect x="754.80" y="150.50" width="4.00" height="35.50" fill="#00c875" stroke="#0b6a3e" stroke-width="0.6"/>
<line x1="763.10" y1="108.30" x2="763.10" y2="143.30" stroke="#7a9c8a" stroke-width="1"/>
<rect x="761.10" y="143.60" width="4.00" height="6.40" fill="#00c875" stroke="#0b6a3e" stroke-width="0.6"/>
<line x1="769.50" y1="129.20" x2="769.50" y2="143.30" stroke="#7a9c8a" stroke-width="1"/>
<line x1="769.50" y1="155.30" x2="769.50" y2="165.00" stroke="#7a9c8a" stroke-width="1"/>
<rect x="767.50" y="143.60" width="4.00" height="11.40" fill="#ff6760" stroke="#8f2f2c" stroke-width="0.6"/>
<line x1="775.90" y1="139.20" x2="775.90" y2="143.30" stroke="#7a9c8a" stroke-width="1"/>
<line x1="775.90" y1="155.30" x2="775.90" y2="169.50" stroke="#7a9c8a" stroke-width="1"/>
<rect x="773.90" y="143.60" width="4.00" height="11.40" fill="#00c875" stroke="#0b6a3e" stroke-width="0.6"/>
<line x1="782.30" y1="132.10" x2="782.30" y2="140.30" stroke="#7a9c8a" stroke-width="1"/>
<line x1="782.30" y1="143.30" x2="782.30" y2="147.50" stroke="#7a9c8a" stroke-width="1"/>
<rect x="780.30" y="140.60" width="4.00" height="2.40" fill="#00c875" stroke="#0b6a3e" stroke-width="0.6"/>
<line x1="788.50" y1="138.60" x2="788.50" y2="140.30" stroke="#7a9c8a" stroke-width="1"/>
<line x1="788.50" y1="144.70" x2="788.50" y2="156.30" stroke="#7a9c8a" stroke-width="1"/>
<rect x="786.50" y="140.60" width="4.00" height="3.80" fill="#ff6760" stroke="#8f2f2c" stroke-width="0.6"/>
<line x1="795.30" y1="149.40" x2="795.30" y2="156.50" stroke="#7a9c8a" stroke-width="1"/>
<rect x="793.30" y="145.40" width="4.00" height="3.70" fill="#ff6760" stroke="#8f2f2c" stroke-width="0.6"/>
<line x1="801.40" y1="140.10" x2="801.40" y2="145.00" stroke="#7a9c8a" stroke-width="1"/>
<rect x="799.40" y="145.30" width="4.00" height="3.90" fill="#00c875" stroke="#0b6a3e" stroke-width="0.6"/>
<rect x="806.30" y="145.30" width="4.00" height="6.60" fill="#ff6760" stroke="#8f2f2c" stroke-width="0.6"/>
<line x1="814.60" y1="150.00" x2="814.60" y2="152.10" stroke="#7a9c8a" stroke-width="1"/>
<line x1="814.60" y1="155.20" x2="814.60" y2="157.50" stroke="#7a9c8a" stroke-width="1"/>
<rect x="812.60" y="152.40" width="4.00" height="2.50" fill="#ff6760" stroke="#8f2f2c" stroke-width="0.6"/>
<line x1="821.25" y1="161.70" x2="821.25" y2="164.80" stroke="#7a9c8a" stroke-width="1"/>
<rect x="819.25" y="155.50" width="4.00" height="5.90" fill="#ff6760" stroke="#8f2f2c" stroke-width="0.6"/>
<line x1="827.50" y1="156.70" x2="827.50" y2="161.40" stroke="#7a9c8a" stroke-width="1"/>
<line x1="827.50" y1="162.00" x2="827.50" y2="164.80" stroke="#7a9c8a" stroke-width="1"/>
<rect x="825.20" y="160.95" width="4.60" height="1.5" fill="#eebcbc"/>
<line x1="827.50" y1="160.95" x2="827.50" y2="162.45" stroke="#7a9c8a" stroke-width="1"/>
<rect x="832.00" y="151.55" width="4.00" height="9.85" fill="#00c875" stroke="#0b6a3e" stroke-width="0.6"/>
<rect x="838.60" y="144.50" width="4.00" height="6.45" fill="#00c875" stroke="#0b6a3e" stroke-width="0.6"/>
<line x1="846.50" y1="136.70" x2="846.50" y2="143.70" stroke="#7a9c8a" stroke-width="1"/>
<line x1="846.50" y1="144.90" x2="846.50" y2="146.50" stroke="#7a9c8a" stroke-width="1"/>
<rect x="844.50" y="144.00" width="4.00" height="0.60" fill="#00c875" stroke="#0b6a3e" stroke-width="0.6"/>
<line x1="853.40" y1="141.60" x2="853.40" y2="144.00" stroke="#7a9c8a" stroke-width="1"/>
<line x1="853.40" y1="146.60" x2="853.40" y2="147.40" stroke="#7a9c8a" stroke-width="1"/>
<rect x="851.40" y="144.30" width="4.00" height="2.00" fill="#ff6760" stroke="#8f2f2c" stroke-width="0.6"/>
<line x1="859.30" y1="149.10" x2="859.30" y2="150.60" stroke="#7a9c8a" stroke-width="1"/>
<rect x="857.30" y="146.60" width="4.00" height="2.20" fill="#ff6760" stroke="#8f2f2c" stroke-width="0.6"/>
<line x1="866.40" y1="143.00" x2="866.40" y2="149.10" stroke="#7a9c8a" stroke-width="1"/>
<line x1="866.40" y1="150.70" x2="866.40" y2="152.60" stroke="#7a9c8a" stroke-width="1"/>
<rect x="864.40" y="149.40" width="4.00" height="1.00" fill="#ff6760" stroke="#8f2f2c" stroke-width="0.6"/>
<line x1="872.40" y1="145.90" x2="872.40" y2="150.40" stroke="#7a9c8a" stroke-width="1"/>
<rect x="870.40" y="150.70" width="4.00" height="1.20" fill="#ff6760" stroke="#8f2f2c" stroke-width="0.6"/>
<line x1="879.30" y1="149.10" x2="879.30" y2="152.10" stroke="#7a9c8a" stroke-width="1"/>
<rect x="877.30" y="152.40" width="4.00" height="1.70" fill="#ff6760" stroke="#8f2f2c" stroke-width="0.6"/>
<line x1="885.40" y1="152.10" x2="885.40" y2="154.10" stroke="#7a9c8a" stroke-width="1"/>
<rect x="883.40" y="154.40" width="4.00" height="3.80" fill="#ff6760" stroke="#8f2f2c" stroke-width="0.6"/>
<line x1="891.90" y1="154.40" x2="891.90" y2="156.10" stroke="#7a9c8a" stroke-width="1"/>
<rect x="889.90" y="156.40" width="4.00" height="1.80" fill="#00c875" stroke="#0b6a3e" stroke-width="0.6"/>
</svg>
<line x1="4" y1="156.45" x2="927" y2="156.45" stroke="#93a6f1" stroke-width="0.9" stroke-dasharray="1.85 1"/>
<line x1="14.2" y1="106.35" x2="907.5" y2="106.35" stroke="#0000ff" stroke-width="2.9"/>
<line x1="14.2" y1="210.35" x2="907.5" y2="210.35" stroke="#ff0000" stroke-width="2.9"/>
<line x1="927.5" y1="66" x2="927.5" y2="491.8" stroke="#a2a2a2" stroke-width="1"/>
<line x1="4" y1="491.8" x2="928" y2="491.8" stroke="#c8c8c8" stroke-width="1.5"/>
<line x1="927.5" y1="79.50" x2="929.8" y2="79.50" stroke="#777" stroke-width="0.8"/>
<text x="931.2" y="81.95" class="ax" textLength="22.6" lengthAdjust="spacingAndGlyphs">125000.0</text>
<line x1="927.5" y1="105.69" x2="929.8" y2="105.69" stroke="#777" stroke-width="0.8"/>
<text x="931.2" y="108.14" class="ax" textLength="22.6" lengthAdjust="spacingAndGlyphs">124000.0</text>
<line x1="927.5" y1="131.88" x2="929.8" y2="131.88" stroke="#777" stroke-width="0.8"/>
<text x="931.2" y="134.33" class="ax" textLength="22.6" lengthAdjust="spacingAndGlyphs">123000.0</text>
<line x1="927.5" y1="184.26" x2="929.8" y2="184.26" stroke="#777" stroke-width="0.8"/>
<text x="931.2" y="186.71" class="ax" textLength="22.6" lengthAdjust="spacingAndGlyphs">121000.0</text>
<line x1="927.5" y1="210.45" x2="929.8" y2="210.45" stroke="#777" stroke-width="0.8"/>
<text x="931.2" y="212.90" class="ax" textLength="22.6" lengthAdjust="spacingAndGlyphs">120000.0</text>
<line x1="927.5" y1="236.64" x2="929.8" y2="236.64" stroke="#777" stroke-width="0.8"/>
<text x="931.2" y="239.09" class="ax" textLength="22.6" lengthAdjust="spacingAndGlyphs">119000.0</text>
<line x1="927.5" y1="262.83" x2="929.8" y2="262.83" stroke="#777" stroke-width="0.8"/>
<text x="931.2" y="265.28" class="ax" textLength="22.6" lengthAdjust="spacingAndGlyphs">118000.0</text>
<line x1="927.5" y1="289.02" x2="929.8" y2="289.02" stroke="#777" stroke-width="0.8"/>
<text x="931.2" y="291.47" class="ax" textLength="22.6" lengthAdjust="spacingAndGlyphs">117000.0</text>
<line x1="927.5" y1="315.21" x2="929.8" y2="315.21" stroke="#777" stroke-width="0.8"/>
<text x="931.2" y="317.66" class="ax" textLength="22.6" lengthAdjust="spacingAndGlyphs">116000.0</text>
<line x1="927.5" y1="341.40" x2="929.8" y2="341.40" stroke="#777" stroke-width="0.8"/>
<text x="931.2" y="343.85" class="ax" textLength="22.6" lengthAdjust="spacingAndGlyphs">115000.0</text>
<line x1="927.5" y1="367.59" x2="929.8" y2="367.59" stroke="#777" stroke-width="0.8"/>
<text x="931.2" y="370.04" class="ax" textLength="22.6" lengthAdjust="spacingAndGlyphs">114000.0</text>
<line x1="927.5" y1="393.78" x2="929.8" y2="393.78" stroke="#777" stroke-width="0.8"/>
<text x="931.2" y="396.23" class="ax" textLength="22.6" lengthAdjust="spacingAndGlyphs">113000.0</text>
<line x1="927.5" y1="419.97" x2="929.8" y2="419.97" stroke="#777" stroke-width="0.8"/>
<text x="931.2" y="422.42" class="ax" textLength="22.6" lengthAdjust="spacingAndGlyphs">112000.0</text>
<line x1="927.5" y1="446.16" x2="929.8" y2="446.16" stroke="#777" stroke-width="0.8"/>
<text x="931.2" y="448.61" class="ax" textLength="22.6" lengthAdjust="spacingAndGlyphs">111000.0</text>
<line x1="927.5" y1="472.35" x2="929.8" y2="472.35" stroke="#777" stroke-width="0.8"/>
<text x="931.2" y="474.80" class="ax" textLength="22.6" lengthAdjust="spacingAndGlyphs">110000.0</text>
<line x1="29.50" y1="491.5" x2="29.50" y2="493.6" stroke="#777" stroke-width="0.8"/>
<text x="29.50" y="499.6" class="ax" text-anchor="middle" textLength="14.5" lengthAdjust="spacingAndGlyphs">18:00</text>
<line x1="68.13" y1="491.5" x2="68.13" y2="493.6" stroke="#777" stroke-width="0.8"/>
<text x="68.13" y="499.6" class="ax" text-anchor="middle" textLength="6.5" lengthAdjust="spacingAndGlyphs">29</text>
<line x1="106.76" y1="491.5" x2="106.76" y2="493.6" stroke="#777" stroke-width="0.8"/>
<text x="106.76" y="499.6" class="ax" text-anchor="middle" textLength="14.5" lengthAdjust="spacingAndGlyphs">06:00</text>
<line x1="145.39" y1="491.5" x2="145.39" y2="493.6" stroke="#777" stroke-width="0.8"/>
<text x="145.39" y="499.6" class="ax" text-anchor="middle" textLength="14.5" lengthAdjust="spacingAndGlyphs">12:00</text>
<line x1="184.02" y1="491.5" x2="184.02" y2="493.6" stroke="#777" stroke-width="0.8"/>
<text x="184.02" y="499.6" class="ax" text-anchor="middle" textLength="14.5" lengthAdjust="spacingAndGlyphs">18:00</text>
<line x1="222.65" y1="491.5" x2="222.65" y2="493.6" stroke="#777" stroke-width="0.8"/>
<text x="222.65" y="499.6" class="ax" text-anchor="middle" textLength="6.5" lengthAdjust="spacingAndGlyphs">30</text>
<line x1="261.28" y1="491.5" x2="261.28" y2="493.6" stroke="#777" stroke-width="0.8"/>
<text x="261.28" y="499.6" class="ax" text-anchor="middle" textLength="14.5" lengthAdjust="spacingAndGlyphs">06:00</text>
<line x1="299.91" y1="491.5" x2="299.91" y2="493.6" stroke="#777" stroke-width="0.8"/>
<text x="299.91" y="499.6" class="ax" text-anchor="middle" textLength="14.5" lengthAdjust="spacingAndGlyphs">12:00</text>
<line x1="338.54" y1="491.5" x2="338.54" y2="493.6" stroke="#777" stroke-width="0.8"/>
<text x="338.54" y="499.6" class="ax" text-anchor="middle" textLength="14.5" lengthAdjust="spacingAndGlyphs">18:00</text>
<line x1="377.17" y1="491.5" x2="377.17" y2="493.6" stroke="#777" stroke-width="0.8"/>
<text x="377.17" y="499.6" class="ax" text-anchor="middle" textLength="9.9" lengthAdjust="spacingAndGlyphs">Oct</text>
<line x1="415.80" y1="491.5" x2="415.80" y2="493.6" stroke="#777" stroke-width="0.8"/>
<text x="415.80" y="499.6" class="ax" text-anchor="middle" textLength="14.5" lengthAdjust="spacingAndGlyphs">06:00</text>
<line x1="454.43" y1="491.5" x2="454.43" y2="493.6" stroke="#777" stroke-width="0.8"/>
<text x="454.43" y="499.6" class="ax" text-anchor="middle" textLength="14.5" lengthAdjust="spacingAndGlyphs">12:00</text>
<line x1="493.06" y1="491.5" x2="493.06" y2="493.6" stroke="#777" stroke-width="0.8"/>
<text x="493.06" y="499.6" class="ax" text-anchor="middle" textLength="14.5" lengthAdjust="spacingAndGlyphs">18:00</text>
<line x1="531.69" y1="491.5" x2="531.69" y2="493.6" stroke="#777" stroke-width="0.8"/>
<text x="531.69" y="499.6" class="ax" text-anchor="middle" textLength="3.3" lengthAdjust="spacingAndGlyphs">2</text>
<line x1="570.32" y1="491.5" x2="570.32" y2="493.6" stroke="#777" stroke-width="0.8"/>
<text x="570.32" y="499.6" class="ax" text-anchor="middle" textLength="14.5" lengthAdjust="spacingAndGlyphs">06:00</text>
<line x1="608.95" y1="491.5" x2="608.95" y2="493.6" stroke="#777" stroke-width="0.8"/>
<text x="608.95" y="499.6" class="ax" text-anchor="middle" textLength="14.5" lengthAdjust="spacingAndGlyphs">12:00</text>
<line x1="647.58" y1="491.5" x2="647.58" y2="493.6" stroke="#777" stroke-width="0.8"/>
<text x="647.58" y="499.6" class="ax" text-anchor="middle" textLength="14.5" lengthAdjust="spacingAndGlyphs">18:00</text>
<line x1="686.21" y1="491.5" x2="686.21" y2="493.6" stroke="#777" stroke-width="0.8"/>
<text x="686.21" y="499.6" class="ax" text-anchor="middle" textLength="3.3" lengthAdjust="spacingAndGlyphs">3</text>
<line x1="724.84" y1="491.5" x2="724.84" y2="493.6" stroke="#777" stroke-width="0.8"/>
<text x="724.84" y="499.6" class="ax" text-anchor="middle" textLength="14.5" lengthAdjust="spacingAndGlyphs">06:00</text>
<line x1="763.47" y1="491.5" x2="763.47" y2="493.6" stroke="#777" stroke-width="0.8"/>
<text x="763.47" y="499.6" class="ax" text-anchor="middle" textLength="14.5" lengthAdjust="spacingAndGlyphs">12:00</text>
<line x1="802.10" y1="491.5" x2="802.10" y2="493.6" stroke="#777" stroke-width="0.8"/>
<text x="802.10" y="499.6" class="ax" text-anchor="middle" textLength="14.5" lengthAdjust="spacingAndGlyphs">18:00</text>
<line x1="840.73" y1="491.5" x2="840.73" y2="493.6" stroke="#777" stroke-width="0.8"/>
<text x="840.73" y="499.6" class="ax" text-anchor="middle" textLength="3.3" lengthAdjust="spacingAndGlyphs">4</text>
<line x1="879.36" y1="491.5" x2="879.36" y2="493.6" stroke="#777" stroke-width="0.8"/>
<text x="879.36" y="499.6" class="ax" text-anchor="middle" textLength="14.5" lengthAdjust="spacingAndGlyphs">06:00</text>
<line x1="917.99" y1="491.5" x2="917.99" y2="493.6" stroke="#777" stroke-width="0.8"/>
<text x="917.99" y="499.6" class="ax" text-anchor="middle" textLength="14.5" lengthAdjust="spacingAndGlyphs">12:00</text>
<rect x="927.2" y="152.6" width="28.9" height="8.0" fill="#466ee6"/>
<line x1="927.5" y1="156.4" x2="929.8" y2="156.4" stroke="#fff" stroke-width="0.8"/>
<text x="931.1" y="158.7" font-size="6" fill="#fff" textLength="23" lengthAdjust="spacingAndGlyphs">122062.1</text>
<text x="10.9" y="482.8" font-size="10.1" font-weight="bold" fill="#111" stroke="#111" stroke-width="0.45" textLength="45.7" lengthAdjust="spacingAndGlyphs">Investing</text>
<circle cx="42.7" cy="475.8" r="1.05" fill="#f7a41d"/>
<text x="58.1" y="482.8" font-size="8" fill="#555" textLength="14.1" lengthAdjust="spacingAndGlyphs">.com</text>
</svg>
</body></html>
